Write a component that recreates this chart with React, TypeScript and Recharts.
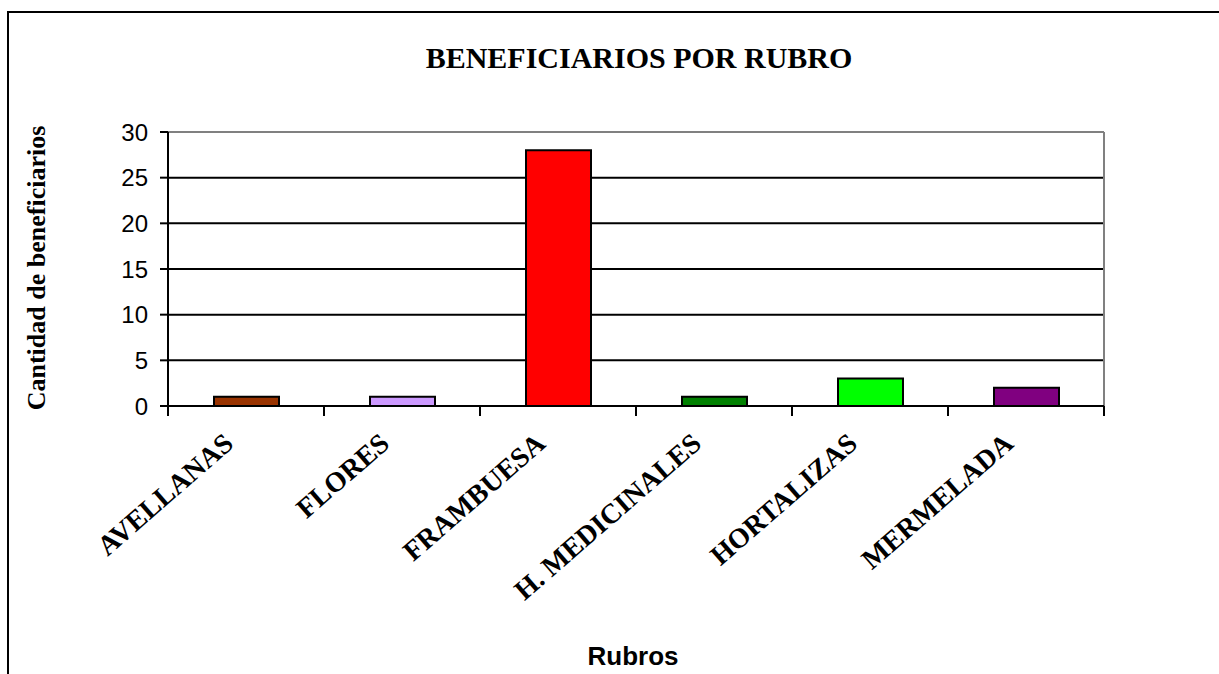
import * as React from "react";
import { Bar, BarChart, CartesianGrid, Cell, XAxis, YAxis } from "recharts";

// datos
const CATEGORIES = ["AVELLANAS", "FLORES", "FRAMBUESA", "H. MEDICINALES", "HORTALIZAS", "MERMELADA"];
const VALUES = [1, 1, 28, 1, 3, 2];
const COLORS = ["#993300", "#CC99FF", "#FF0000", "#008000", "#00FF00", "#800080"];
const Y_TICKS = [0, 5, 10, 15, 20, 25, 30];

const W = 1219;
const H = 674;
const PLOT_LEFT = 168;
const PLOT_RIGHT = 1104;
const PLOT_TOP = 132;
const PLOT_BOTTOM = 406;
const X_AXIS_H = 60;
const BAND = (PLOT_RIGHT - PLOT_LEFT) / CATEGORIES.length;

const SERIF = '"Times New Roman", "Liberation Serif", serif';
const SANS = 'Arial, "Liberation Sans", sans-serif';

const rows = CATEGORIES.map((name, i) => ({ name, value: VALUES[i] }));

function CategoryTick(props: any) {
  const { x, y, payload, index } = props;
  const half = BAND / 2;
  const tx = x - 11;
  const ty = y + 40;
  return (
    <g>
      <line x1={x - half} y1={y} x2={x - half} y2={y + 10} stroke="#000" strokeWidth={2} />
      {index === CATEGORIES.length - 1 ? (
        <line x1={x + half} y1={y} x2={x + half} y2={y + 10} stroke="#000" strokeWidth={2} />
      ) : null}
      <text
        x={tx}
        y={ty}
        transform={`rotate(-41 ${tx} ${ty})`}
        textAnchor="end"
        fontFamily={SERIF}
        fontWeight="bold"
        fontSize={28}
        fill="#000"
      >
        {payload.value}
      </text>
    </g>
  );
}

export default function App() {
  return (
    <div style={{ position: "absolute", left: 0, top: 0, width: W, height: H, overflow: "hidden", background: "#fff" }}>
      <div
        style={{
          position: "absolute",
          left: 7,
          top: 11,
          width: 1400,
          height: 900,
          border: "2px solid #000",
        }}
      />
      <div style={{ position: "absolute", left: 0, top: 0 }}>
        <BarChart
          width={W}
          height={H}
          data={rows}
          margin={{ top: PLOT_TOP, right: W - PLOT_RIGHT, bottom: H - PLOT_BOTTOM - X_AXIS_H, left: 0 }}
        >
          <CartesianGrid stroke="#000" strokeWidth={2} vertical={false} />
          <CartesianGrid
            stroke="#808080"
            strokeWidth={2}
            horizontalCoordinatesGenerator={({ offset }: any) => [offset.top]}
            verticalCoordinatesGenerator={({ offset }: any) => [offset.left + offset.width]}
          />
          <XAxis
            dataKey="name"
            height={X_AXIS_H}
            interval={0}
            tickLine={false}
            tickSize={0}
            tickMargin={0}
            axisLine={{ stroke: "#000", strokeWidth: 2 }}
            tick={<CategoryTick />}
          />
          <YAxis
            width={PLOT_LEFT}
            domain={[0, 30]}
            ticks={Y_TICKS}
            interval={0}
            tickSize={8}
            tickMargin={12}
            tickLine={{ stroke: "#000", strokeWidth: 2 }}
            axisLine={{ stroke: "#000", strokeWidth: 2 }}
            tick={{ fontFamily: SANS, fontSize: 24, fill: "#000" }}
          />
          <Bar dataKey="value" barSize={65} stroke="#000" strokeWidth={2} isAnimationActive={false}>
            {rows.map((r, i) => (
              <Cell key={r.name} fill={COLORS[i]} />
            ))}
          </Bar>
        </BarChart>
      </div>
      <svg width={W} height={H} style={{ position: "absolute", left: 0, top: 0, pointerEvents: "none" }}>
        <text x={639} y={68} textAnchor="middle" fontFamily={SERIF} fontWeight="bold" fontSize={30} fill="#000">
          BENEFICIARIOS POR RUBRO
        </text>
        <text
          x={45}
          y={268}
          transform="rotate(-90 45 268)"
          textAnchor="middle"
          fontFamily={SERIF}
          fontWeight="bold"
          fontSize={26}
          fill="#000"
        >
          Cantidad de beneficiarios
        </text>
        <text x={633} y={665} textAnchor="middle" fontFamily={SANS} fontWeight="bold" fontSize={26} fill="#000">
          Rubros
        </text>
      </svg>
    </div>
  );
}
